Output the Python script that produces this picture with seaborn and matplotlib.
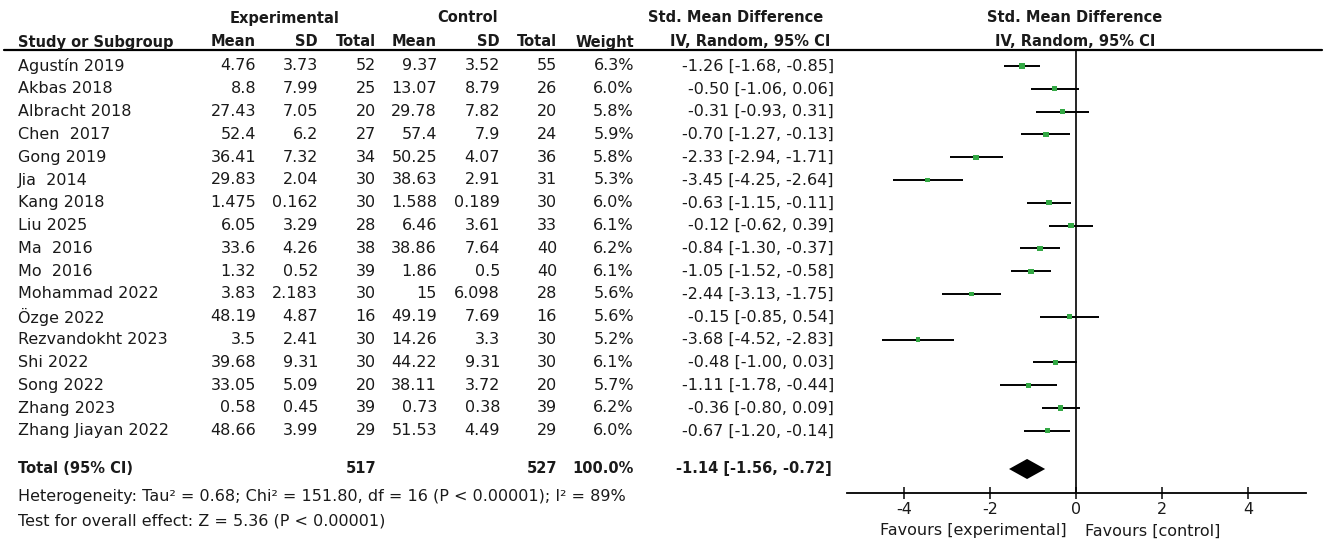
import matplotlib
matplotlib.use("Agg")
import matplotlib.pyplot as plt
import matplotlib.transforms as mtransforms
from matplotlib.lines import Line2D
import seaborn as sns
import pandas as pd

# data
studies = ["Agustín 2019", "Akbas 2018", "Albracht 2018", "Chen  2017", "Gong 2019",
           "Jia  2014", "Kang 2018", "Liu 2025", "Ma  2016", "Mo  2016",
           "Mohammad 2022", "Özge 2022", "Rezvandokht 2023", "Shi 2022",
           "Song 2022", "Zhang 2023", "Zhang Jiayan 2022"]
exp_mean = ["4.76", "8.8", "27.43", "52.4", "36.41", "29.83", "1.475", "6.05", "33.6",
            "1.32", "3.83", "48.19", "3.5", "39.68", "33.05", "0.58", "48.66"]
exp_sd = ["3.73", "7.99", "7.05", "6.2", "7.32", "2.04", "0.162", "3.29", "4.26",
          "0.52", "2.183", "4.87", "2.41", "9.31", "5.09", "0.45", "3.99"]
exp_n = [52, 25, 20, 27, 34, 30, 30, 28, 38, 39, 30, 16, 30, 30, 20, 39, 29]
ctl_mean = ["9.37", "13.07", "29.78", "57.4", "50.25", "38.63", "1.588", "6.46", "38.86",
            "1.86", "15", "49.19", "14.26", "44.22", "38.11", "0.73", "51.53"]
ctl_sd = ["3.52", "8.79", "7.82", "7.9", "4.07", "2.91", "0.189", "3.61", "7.64",
          "0.5", "6.098", "7.69", "3.3", "9.31", "3.72", "0.38", "4.49"]
ctl_n = [55, 26, 20, 24, 36, 31, 30, 33, 40, 40, 28, 16, 30, 30, 20, 39, 29]
weight = [6.3, 6.0, 5.8, 5.9, 5.8, 5.3, 6.0, 6.1, 6.2, 6.1, 5.6, 5.6, 5.2, 6.1, 5.7, 6.2, 6.0]
smd = [-1.26, -0.50, -0.31, -0.70, -2.33, -3.45, -0.63, -0.12, -0.84, -1.05,
       -2.44, -0.15, -3.68, -0.48, -1.11, -0.36, -0.67]
ci_lo = [-1.68, -1.06, -0.93, -1.27, -2.94, -4.25, -1.15, -0.62, -1.30, -1.52,
         -3.13, -0.85, -4.52, -1.00, -1.78, -0.80, -1.20]
ci_hi = [-0.85, 0.06, 0.31, -0.13, -1.71, -2.64, -0.11, 0.39, -0.37, -0.58,
         -1.75, 0.54, -2.83, 0.03, -0.44, 0.09, -0.14]

total_exp = 517
total_ctl = 527
total_smd = -1.14
total_lo = -1.56
total_hi = -0.72

xticks = [-4, -2, 0, 2, 4]

df = pd.DataFrame({"study": studies, "smd": smd, "lo": ci_lo, "hi": ci_hi, "weight": weight})
df["row"] = range(len(df))

sns.set_style("white")
plt.rcParams["font.family"] = ["DejaVu Sans"]

W, H = 1325, 554
fig = plt.figure(figsize=(W / 100, H / 100), dpi=100)
fig.patch.set_facecolor("white")

# forest panel
ax_l, ax_r, ax_top, ax_bot = 847, 1306, 50, 493
ax = fig.add_axes([ax_l / W, 1 - ax_bot / H, (ax_r - ax_l) / W, (ax_bot - ax_top) / H])
row0, step = 66, 22.8
ax.set_ylim((ax_bot - row0) / step, (ax_top - row0) / step)
ax.set_xlim(-5.33, 5.35)

ax.hlines(df["row"], df["lo"], df["hi"], color="black", lw=1.4, zorder=2)
sns.scatterplot(data=df, x="smd", y="row", size="weight", sizes=(11, 16), marker="s",
                color="#33A844", edgecolor="#33A844", linewidth=0, legend=False,
                ax=ax, zorder=3)
ax.axvline(0, color="black", lw=1.2, zorder=1)

total_y = (469 - row0) / step
dh = 0.44
ax.fill([total_lo, total_smd, total_hi, total_smd],
        [total_y, total_y - dh, total_y, total_y + dh], color="black", lw=0, zorder=3)

for s in ["top", "left", "right"]:
    ax.spines[s].set_visible(False)
ax.spines["bottom"].set_linewidth(1.3)
ax.spines["bottom"].set_color("black")
ax.set_yticks([])
ax.set_xticks(xticks)
ax.set_xticklabels([str(t) for t in xticks])
ax.tick_params(axis="x", direction="inout", length=9, width=1.2, pad=2,
               labelsize=11.5, colors="#1a1a1a", bottom=True)
ax.set_xlabel("")
ax.set_ylabel("")
ax.patch.set_alpha(0)

# table text, x in figure pixels, y on forest rows
trans = mtransforms.blended_transform_factory(
    mtransforms.Affine2D().scale(1 / W, 1) + fig.transFigure, ax.transData)
fs = 11.5
fsb = 10.5
tc = "#1a1a1a"

def cell(px, y, s, ha="right", weight="normal"):
    fig.text(px, y, s, transform=trans, ha=ha, va="center",
             fontsize=fsb if weight == "bold" else fs, color=tc, fontweight=weight)

def ftext(px, py, s, ha="left", weight="normal"):
    fig.text(px / W, 1 - py / H, s, ha=ha, va="center",
             fontsize=fsb if weight == "bold" else fs, color=tc, fontweight=weight)

cols = [256, 318, 376, 437, 500, 557, 634, 834]
for i in range(len(studies)):
    cell(18, i, studies[i], ha="left")
    cell(cols[0], i, exp_mean[i])
    cell(cols[1], i, exp_sd[i])
    cell(cols[2], i, str(exp_n[i]))
    cell(cols[3], i, ctl_mean[i])
    cell(cols[4], i, ctl_sd[i])
    cell(cols[5], i, str(ctl_n[i]))
    cell(cols[6], i, f"{weight[i]:.1f}%")
    cell(cols[7], i, f"{smd[i]:.2f} [{ci_lo[i]:.2f}, {ci_hi[i]:.2f}]")

cell(18, total_y, "Total (95% CI)", ha="left", weight="bold")
cell(cols[2], total_y, str(total_exp), weight="bold")
cell(cols[5], total_y, str(total_ctl), weight="bold")
cell(cols[6], total_y, "100.0%", weight="bold")
cell(832, total_y, f"{total_smd:.2f} [{total_lo:.2f}, {total_hi:.2f}]", weight="bold")

ftext(18, 497, "Heterogeneity: Tau² = 0.68; Chi² = 151.80, df = 16 (P < 0.00001); I² = 89%")
ftext(18, 521, "Test for overall effect: Z = 5.36 (P < 0.00001)")

# headers
ftext(285, 18, "Experimental", ha="center", weight="bold")
ftext(468, 18, "Control", ha="center", weight="bold")
ftext(823, 18, "Std. Mean Difference", ha="right", weight="bold")
ftext(1075, 18, "Std. Mean Difference", ha="center", weight="bold")
ftext(18, 42, "Study or Subgroup", weight="bold")
for px, s in zip(cols[:-1] + [830], ["Mean", "SD", "Total", "Mean", "SD", "Total",
                                     "Weight", "IV, Random, 95% CI"]):
    ftext(px, 42, s, ha="right", weight="bold")
ftext(1075, 42, "IV, Random, 95% CI", ha="center", weight="bold")

fig.add_artist(Line2D([4 / W, 1322 / W], [1 - 50 / H, 1 - 50 / H],
                      transform=fig.transFigure, color="black", lw=1.6))

ftext(1067, 531, "Favours [experimental]", ha="right")
ftext(1085, 531, "Favours [control]", ha="left")

fig.savefig("out.png", dpi=100, facecolor="white")
